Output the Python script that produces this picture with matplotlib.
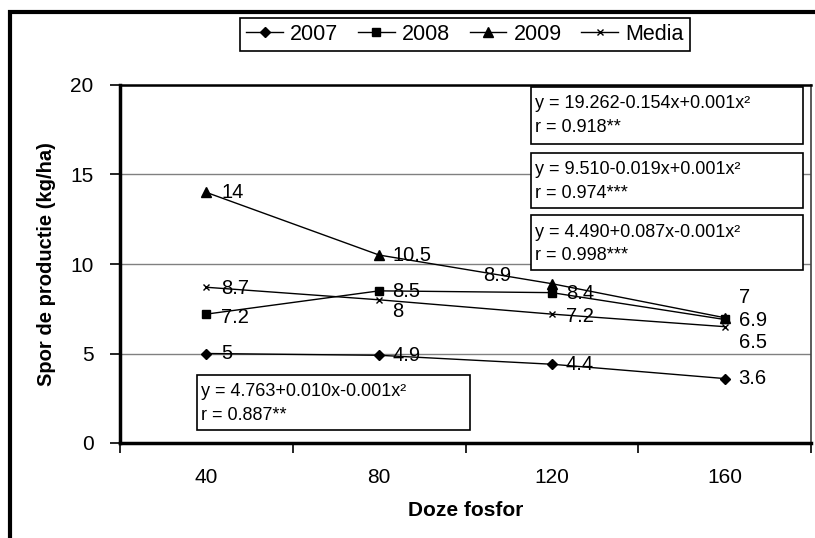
import matplotlib
matplotlib.use("Agg")
import matplotlib.pyplot as plt
from matplotlib.patches import Rectangle

plt.rcParams['font.family'] = ['Liberation Sans', 'DejaVu Sans']

# ---- data ----
doses = ["40", "80", "120", "160"]
y2007 = [5, 4.9, 4.4, 3.6]
y2008 = [7.2, 8.5, 8.4, 6.9]
y2009 = [14, 10.5, 8.9, 7]
media = [8.7, 8, 7.2, 6.5]
series_names = ["2007", "2008", "2009", "Media"]
y_ticks = [0, 5, 10, 15, 20]
eq_2009 = ["y = 19.262-0.154x+0.001x\u00b2", "r = 0.918**"]
eq_2008 = ["y = 9.510-0.019x+0.001x\u00b2", "r = 0.974***"]
eq_media = ["y = 4.490+0.087x-0.001x\u00b2", "r = 0.998***"]
eq_2007 = ["y = 4.763+0.010x-0.001x\u00b2", "r = 0.887**"]
x_label = "Doze fosfor"
y_label = "Spor de productie (kg/ha)"

# ---- layout / style ----
W, H = 815, 538
fig = plt.figure(figsize=(W / 100, H / 100), dpi=100)

def fx(x):
    return x / W

def fy(y):
    return 1 - y / H

ax = fig.add_axes([fx(120), fy(443), fx(811) - fx(120), fy(85) - fy(443)])

xs = list(range(len(doses)))
styles = [
    dict(marker="D", markersize=5.5),
    dict(marker="s", markersize=5.5),
    dict(marker="^", markersize=7),
    dict(marker="x", markersize=4.5, markeredgewidth=1.0),
]
all_series = [y2007, y2008, y2009, media]
# label offsets in pixels (dx, dy) for each point
label_offsets = [
    [(15, 0), (13, 0), (14, 0), (14, 0)],
    [(15, -3), (13, -1), (14, -1), (14, -1)],
    [(15, 0), (13, 0), (-69, 8), (14, 20)],
    [(15, -1), (13, -12), (14, -2), (14, -16)],
]

handles = []
for vals, st, name, offs in zip(all_series, styles, series_names, label_offsets):
    h, = ax.plot(xs, vals, color="black", linewidth=1.0, markerfacecolor="black",
                 markeredgecolor="black", label=name, zorder=3, **st)
    handles.append(h)
    for x, v, (dx, dy) in zip(xs, vals, offs):
        ax.annotate(f"{v:g}", (x, v), xytext=(dx, dy), textcoords="offset pixels",
                    ha="left", va="center", fontsize=14.5, zorder=4)

ax.set_xlim(-0.5, len(doses) - 0.5)
ax.set_ylim(0, 20)
ax.set_yticks(y_ticks)
ax.set_yticklabels([str(t) for t in y_ticks], fontsize=15)
ax.set_xticks([i - 0.5 for i in range(len(doses) + 1)])
ax.set_xticklabels([])
ax.set_xticks(xs, minor=True)
ax.set_xticklabels(doses, minor=True, fontsize=15)
ax.tick_params(axis="x", which="major", length=7, width=1.2, direction="out")
ax.tick_params(axis="x", which="minor", length=0, pad=18)
ax.tick_params(axis="y", which="major", length=7, width=1.2, direction="out", pad=12)
ax.yaxis.grid(True, color="#808080", linewidth=1.0, zorder=0)
ax.set_axisbelow(True)

for side in ["left", "bottom"]:
    ax.spines[side].set_linewidth(2.5)
    ax.spines[side].set_color("black")
ax.spines["top"].set_linewidth(1.8)
ax.spines["top"].set_color("black")
ax.spines["right"].set_linewidth(1.2)
ax.spines["right"].set_color("#404040")

fig.text(fx(466), fy(510), x_label, ha="center", va="center", fontsize=15, fontweight="bold")
fig.text(fx(47), fy(264), y_label, ha="center", va="center", fontsize=14.5,
         fontweight="bold", rotation=90)

# equation boxes (pixel layout)
boxes = [
    (eq_2009, 531, 87, 803, 144),
    (eq_2008, 531, 153, 803, 208),
    (eq_media, 531, 215, 803, 270),
    (eq_2007, 197, 375, 470, 430),
]
for lines, x0, y0, x1, y1 in boxes:
    fig.patches.append(Rectangle((fx(x0), fy(y1)), fx(x1) - fx(x0), fy(y0) - fy(y1),
                                 transform=fig.transFigure, facecolor="white",
                                 edgecolor="black", linewidth=1.2, zorder=5))
    fig.text(fx(x0 + 4), fy(y0 + 17), lines[0], ha="left", va="center", fontsize=13, zorder=6)
    fig.text(fx(x0 + 4), fy(y0 + 40), lines[1], ha="left", va="center", fontsize=13, zorder=6)

# outer chart border
fig.patches.append(Rectangle((fx(10), fy(600)), fx(900) - fx(10), fy(12) - fy(600),
                             transform=fig.transFigure, facecolor="none",
                             edgecolor="black", linewidth=3, zorder=1))

leg = fig.legend(handles=handles, labels=series_names, loc="center",
                 bbox_to_anchor=(fx(465), fy(34.5)), ncol=4, fontsize=15.5,
                 frameon=True, fancybox=False, edgecolor="black", framealpha=1,
                 handlelength=1.7, handletextpad=0.35, columnspacing=0.9,
                 borderpad=0.3, borderaxespad=0)
leg.get_frame().set_linewidth(1.2)

fig.savefig("out.png", dpi=100)
